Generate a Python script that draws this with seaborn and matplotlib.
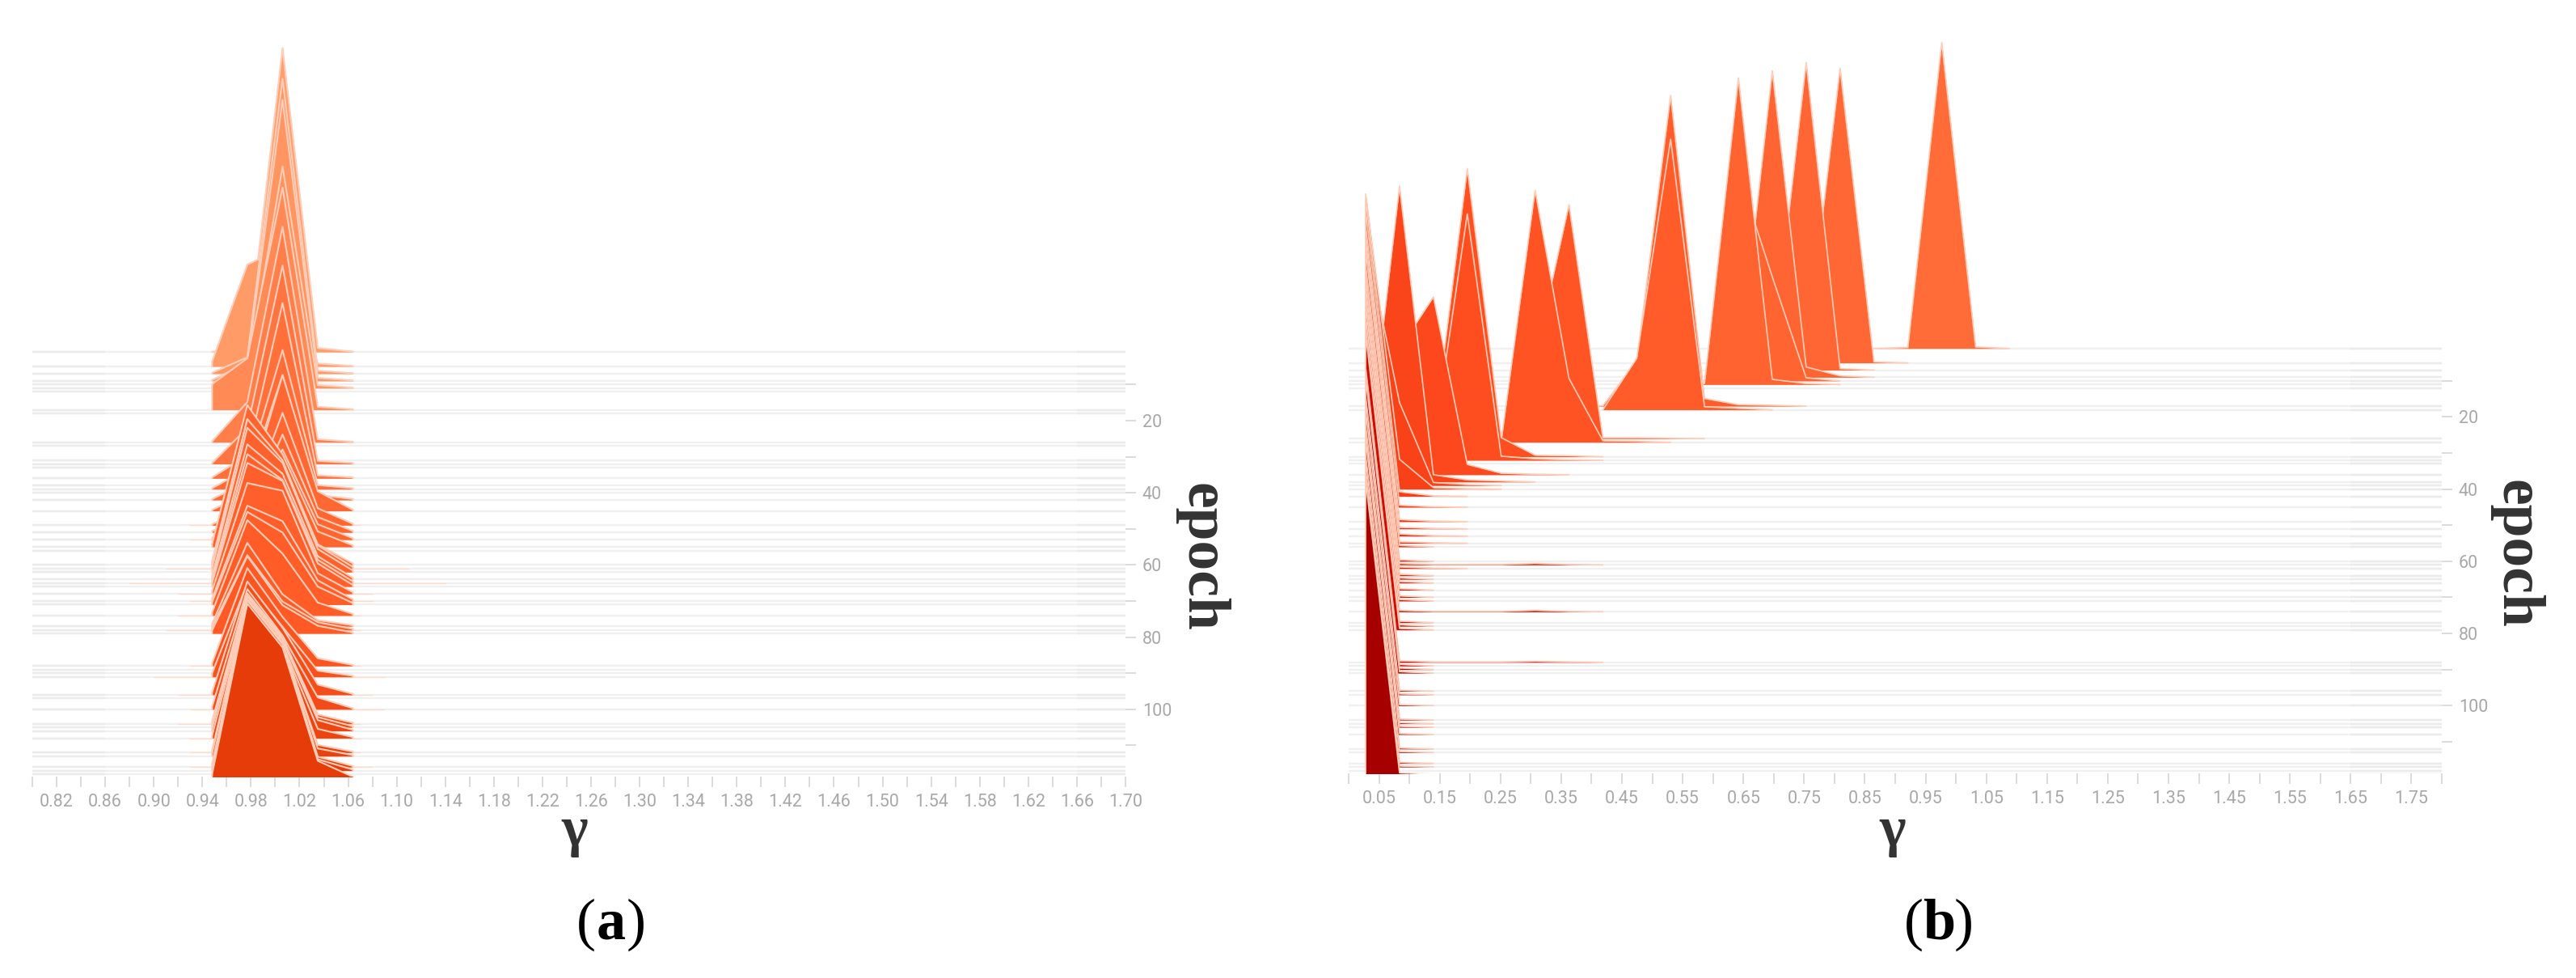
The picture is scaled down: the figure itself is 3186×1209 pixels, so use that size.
import numpy as np
import matplotlib
matplotlib.use('Agg')
import matplotlib.pyplot as plt
import seaborn as sns

W, H = 3186, 1209

# every row that has a faint grey strip (same in both panels)
EPOCHS = [1, 5, 7, 9, 10, 11, 12, 17, 18, 26, 27, 31, 32, 33, 36, 38, 39, 40, 42, 45, 49, 51, 53, 55, 56,
          60, 61, 62, 64, 65, 66, 68, 70, 71, 74, 77, 78, 79, 88, 89, 90, 91, 96, 97, 100, 104, 105, 106,
          108, 112, 113, 116, 117, 118, 119]

# panel a: heights at nodes 0.948, 0.977, 1.006, 1.035, 1.064
A_EPOCHS = [1, 5, 7, 9, 11, 17, 26, 32, 36, 39, 42, 45, 49, 51, 53, 55, 60, 61, 62, 64, 65, 66, 68, 70, 71,
            74, 77, 78, 79, 88, 91, 96, 100, 104, 105, 106, 108, 112, 113, 116, 117, 119]
A_HEIGHTS = [
    [1, 2, 590, 8, 1], [10, 198, 230, 6, 1], [2, 32, 572, 6, 1], [2, 35, 545, 6, 1], [2, 30, 430, 6, 1],
    [50, 100, 431, 6, 1], [2, 78, 418, 6, 1], [2, 70, 385, 6, 2], [2, 45, 340, 6, 2], [2, 40, 270, 8, 2],
    [2, 35, 243, 10, 2], [2, 35, 263, 38, 2], [2, 35, 218, 33, 3], [3, 35, 190, 30, 3], [4, 40, 175, 30, 3],
    [6, 275, 180, 30, 3], [8, 283, 195, 40, 3], [8, 290, 210, 45, 3], [8, 280, 212, 45, 3], [8, 262, 205, 45, 3],
    [8, 250, 200, 45, 3], [7, 240, 205, 45, 3], [6, 215, 200, 40, 3], [5, 185, 155, 40, 3], [5, 180, 140, 35, 3],
    [6, 185, 120, 25, 3], [5, 162, 62, 12, 2], [6, 145, 55, 15, 2], [6, 150, 55, 15, 2], [6, 190, 95, 15, 2],
    [7, 182, 97, 12, 2], [5, 220, 130, 20, 2], [5, 233, 143, 23, 2], [6, 253, 168, 18, 2], [5, 257, 172, 20, 2],
    [5, 261, 176, 21, 2], [5, 268, 183, 18, 2], [5, 297, 212, 15, 2], [5, 305, 220, 15, 2], [6, 325, 240, 20, 2],
    [5, 330, 245, 22, 2], [7, 338, 253, 33, 2],
]

# thin pale tails that stick out of panel a on either side
A_TAIL_EPOCHS = [49, 53, 61, 65, 68, 70, 74, 78, 88, 91, 96, 100, 104, 108, 112, 116, 119]
A_TAIL_LEFT = [0.93, 0.93, 0.91, 0.88, 0.92, 0.93, 0.92, 0.91, 0.93, 0.90, 0.92, 0.93, 0.92, 0.93, 0.93, 0.93, 0.89]
A_TAIL_RIGHT = [1.07, 1.07, 1.11, 1.14, 1.08, 1.08, 1.07, 1.07, 1.07, 1.09, 1.08, 1.09, 1.07, 1.07, 1.07, 1.08, 1.11]

# panel b: first node index of each ridge, then its heights from that node on
B_EPOCHS = [1, 5, 7, 9, 10, 11, 17, 18, 26, 27, 31, 32, 36, 38, 39, 40, 42, 45, 49, 51, 53, 55, 56, 60, 61,
            62, 64, 65, 66, 68, 70, 71, 74, 77, 78, 79, 88, 89, 90, 91, 96, 97, 100, 104, 105, 106, 108,
            112, 113, 116, 117, 119]
B_STARTS = [16, 13, 12, 11, 11, 10, 7, 8, 5, 4, 2, 2, 1, 0, 0, 0] + [0] * 36
B_HEIGHTS = [
    [2, 594, 3], [20, 572, 2], [25, 597, 3], [10, 595, 20, 3], [405, 202, 6], [2, 595, 10, 2],
    [1, 88, 603, 15, 3, 2], [100, 525, 6, 3], [156, 454, 2, 2, 1], [2, 489, 124, 3, 2],
    [40, 559, 37, 3, 2], [30, 478, 8, 3, 1], [245, 345, 20, 3, 1], [9, 574, 14, 4, 2],
    [480, 161, 6, 2], [573, 58, 3, 1],
    [578, 9, 1], [576, 4, 1], [575, 4, 1], [575, 3, 1], [575, 4, 1], [575, 3, 1], [575, 3], [575, 3],
    [575, 3, 1, 1, 1, 3, 1], [575, 3, 1], [575, 3], [575, 3], [575, 3], [575, 3], [575, 3], [575, 3],
    [575, 3, 1, 1, 1, 3, 1], [575, 3], [575, 3], [575, 3],
    [572, 3, 1, 1, 1, 2, 1], [572, 3], [572, 3], [572, 3], [572, 2], [572, 2], [572, 2], [572, 2], [572, 2],
    [572, 2], [572, 2], [570, 2], [570, 2], [570, 2], [570, 2], [570, 2],
]

A_COLORS = ['#ffa06c', '#ff6a35', '#ff5a26', '#e63c0a']
B_COLORS = ['#ff6c38', '#ff5020', '#ec2008', '#c00000', '#a60000']

X_A = np.round(np.arange(0.80, 1.701, 0.02), 2)
X_B = np.round(np.arange(0.00, 1.801, 0.05), 2)
Y_TICKS = list(range(10, 111, 10))

UNITS_PER_EPOCH = 7.0

sns.set_theme(style='white')
plt.rcParams['font.family'] = ['Roboto', 'DejaVu Sans']

fig = plt.figure(figsize=(W / 100, H / 100), dpi=100, facecolor='white')


def make_axes(x0, x1, y_top, y_bottom):
    return fig.add_axes([x0 / W, 1 - y_bottom / H, (x1 - x0) / W, (y_bottom - y_top) / H])


def draw_strips(ax, xmin, xmax, end_l, end_r):
    ax.hlines(EPOCHS, xmin, xmax, color='#f0f0f0', lw=1.7, zorder=1)
    ax.hlines(EPOCHS, xmin, end_l, color='#ebebeb', lw=1.7, zorder=2)
    ax.hlines(EPOCHS, end_r, xmax, color='#ebebeb', lw=1.7, zorder=2)


def draw_ridges(ax, epochs, starts, heights, g0, step, palette, square_ends=False, lw=1.2):
    for i, (e, s, h) in enumerate(zip(epochs, starts, heights)):
        k = np.arange(s - 1, s + len(h) + 1, dtype=float)
        if s == 0 or square_ends:
            k[0] = k[1]  # nothing on the left of the first bin
        if square_ends:
            k[-1] = k[-2]
        xs = g0 + step * k
        ys = e - np.r_[0, h, 0] / UNITS_PER_EPOCH
        c = palette[e - 1]
        ax.fill_between(xs, e, ys, color=c, lw=0, zorder=10 + 2 * i)
        sns.lineplot(x=xs, y=ys, color='#ffcdb8', lw=lw, sort=False, estimator=None, errorbar=None,
                     ax=ax, zorder=11 + 2 * i)


def style_axes(ax, xlim, ylim, xticks, xlabels):
    ax.set_xlim(*xlim)
    ax.set_ylim(*ylim)
    ax.set_xticks(xticks)
    ax.set_xticklabels(xlabels)
    ax.set_yticks(Y_TICKS)
    ax.set_yticklabels([str(t) if t % 20 == 0 else '' for t in Y_TICKS])
    ax.yaxis.tick_right()
    ax.tick_params(axis='both', length=9.4, width=1.1, color='#d2d2d2', labelcolor='#a8a8a8',
                   labelsize=15.5, pad=5.5, bottom=True, right=True, left=False)
    ax.set_xlabel('')
    ax.set_ylabel('')
    ax.patch.set_alpha(0)
    sns.despine(ax=ax, left=True, bottom=True, right=True, top=True)


# panel a
ax_a = make_axes(40, 1392, 10, 960)
draw_strips(ax_a, 0.80, 1.70, 0.86, 1.66)
ax_a.hlines(A_TAIL_EPOCHS, A_TAIL_LEFT, A_TAIL_RIGHT, color='#ffd9c9', lw=0.9, zorder=5)
draw_ridges(ax_a, A_EPOCHS, [1] * len(A_EPOCHS), A_HEIGHTS, 0.919, 0.029, sns.blend_palette(A_COLORS, 119),
            square_ends=True, lw=1.5)
style_axes(ax_a, (0.80, 1.70), (118.65, -94.35), X_A,
           [f'{v:.2f}' if i % 2 == 1 else '' for i, v in enumerate(X_A)])

# panel b
ax_b = make_axes(1668, 3020, 10, 956)
draw_strips(ax_b, 0.00, 1.80, 0.0, 1.65)
draw_ridges(ax_b, B_EPOCHS, B_STARTS, B_HEIGHTS, 0.028, 0.0558, sns.blend_palette(B_COLORS, 119))
style_axes(ax_b, (0.00, 1.80), (118.77, -93.34), X_B,
           [f'{v:.2f}' if i % 2 == 1 else '' for i, v in enumerate(X_B)])


def label(px, py, s, **kw):
    fig.text(px / W, 1 - py / H, s, ha='center', va='center', family='Liberation Serif', **kw)


for gx, ex, ey, cx, letter in [(711, 1485, 689, 756, 'a'), (2341, 3112, 685, 2398, 'b')]:
    label(gx, 1028, 'γ', fontsize=50, fontweight='bold', color='#333333')
    label(ex, ey, 'epoch', fontsize=53, fontweight='bold', color='#333333', rotation=-90)
    label(cx - 31, 1143, '(', fontsize=52, color='black')
    label(cx, 1143, letter, fontsize=52, fontweight='bold', color='black')
    label(cx + 31, 1143, ')', fontsize=52, color='black')

fig.savefig('out.png', dpi=100, facecolor='white')
